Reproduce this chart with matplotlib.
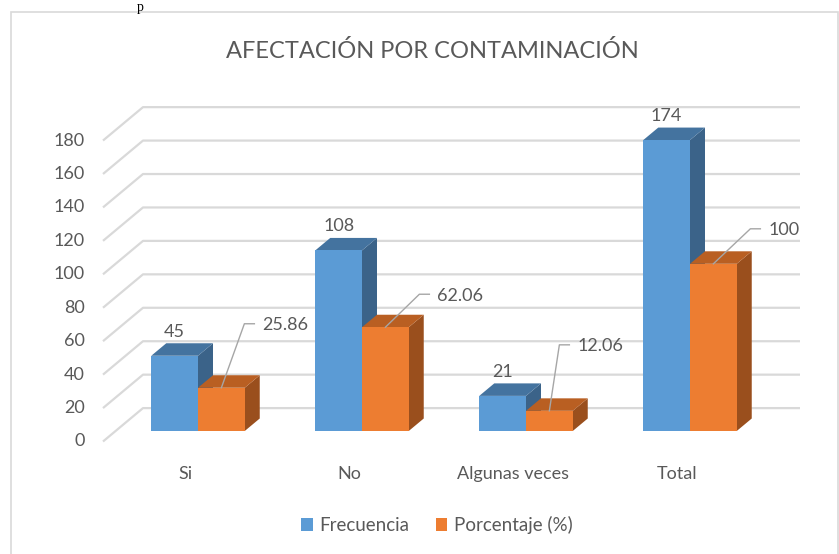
import matplotlib
matplotlib.use('Agg')
import matplotlib.pyplot as plt
from matplotlib.patches import Polygon, Rectangle, Patch

# --- data ---
categorias = ['Si', 'No', 'Algunas veces', 'Total']
frecuencia = [45, 108, 21, 174]
porcentaje = [25.86, 62.06, 12.06, 100]
etiq_porcentaje = ['25.86', '62.06', '12.06', '100']
ticks_y = [0, 20, 40, 60, 80, 100, 120, 140, 160, 180]
series = ['Frecuencia', 'Porcentaje (%)']
titulo = 'AFECTACIÓN POR CONTAMINACIÓN'

# front / top / side colours for each series
col_azul = ('#5B9BD5', '#44739F', '#3B6389')
col_naranja = ('#ED7D31', '#B95F22', '#9A4F1D')
gris_txt = '#595959'
gris_grid = '#D9D9D9'

plt.rcParams['font.family'] = ['Lato', 'DejaVu Sans']

W, H = 839, 554
fig = plt.figure(figsize=(W / 100, H / 100), dpi=100)
ax = fig.add_axes([0, 0, 1, 1])

# pixel layout -> data units (one category = 164 px, one unit = 1.672 px)
X0, XS = 198, 164
Y0, YS = 431, 1.672
def px(x):
    return (x - X0) / XS
def py(y):
    return (Y0 - y) / YS

ax.set_xlim(px(0), px(W))
ax.set_ylim(py(H), py(0))
ax.axis('off')

# chart frame
fig.patches.append(Rectangle((11 / W, -0.01), (W - 12) / W, 1.01 - 12 / H,
                             transform=fig.transFigure, fill=False,
                             edgecolor=gris_grid, lw=1.2))
# bit of the document text above the chart
fig.text(137 / W, 1 - 1 / H, 'p', family=['Liberation Serif', 'DejaVu Serif'],
         fontsize=10, color='black', ha='left', va='top')

# 3d wall: front edge and back wall gridlines
front_x = px(103)
front_dy = -10.5 / YS
deep_x = 40 / XS
deep_y = 33.4 / YS
back_end = px(800)
for t in ticks_y:
    yf = t + front_dy
    ax.plot([front_x, front_x + deep_x, back_end], [yf, yf + deep_y, yf + deep_y],
            color=gris_grid, lw=1.6, zorder=1, solid_capstyle='butt')
    ax.text(px(85), yf, str(t), ha='right', va='center', fontsize=13, color=gris_txt)

# bars with depth
w = 0.285
bdx = 15 / XS
bdy = 12.5 / YS

def bar3d(xc, h, cols):
    L, R = xc - w / 2, xc + w / 2
    ax.add_patch(Polygon([(R, 0), (R + bdx, bdy), (R + bdx, h + bdy), (R, h)],
                         closed=True, facecolor=cols[2], edgecolor='none', zorder=3))
    ax.add_patch(Polygon([(L, h), (R, h), (R + bdx, h + bdy), (L + bdx, h + bdy)],
                         closed=True, facecolor=cols[1], edgecolor='none', zorder=3))
    ax.bar(xc, h, width=w, color=cols[0], edgecolor='none', zorder=3)

# leader offsets (px) for the percentage labels
leader = [(23, 64), (34, 33), (10, 66), (37, 35)]

for i, cat in enumerate(categorias):
    xb = i - w / 2
    xo = i + w / 2
    bar3d(xb, frecuencia[i], col_azul)
    bar3d(xo, porcentaje[i], col_naranja)

    ax.annotate(str(frecuencia[i]), xy=(xb, frecuencia[i]), xytext=(0, 24),
                textcoords='offset pixels', ha='center', va='center',
                fontsize=13, color=gris_txt, zorder=5)

    ex, ey = leader[i]
    x1 = xo + ex / XS
    y1 = porcentaje[i] + ey / YS
    ax.plot([xo, x1, x1 + 10 / XS], [porcentaje[i], y1, y1],
            color='#A6A6A6', lw=1, zorder=4)
    ax.text(x1 + 18 / XS, y1 - 1.5 / YS, etiq_porcentaje[i], ha='left', va='center',
            fontsize=13, color=gris_txt, zorder=5)

    ax.text(i - 13 / XS, py(474), cat, ha='center', va='center',
            fontsize=13, color=gris_txt)

fig.text(432 / W, 1 - 51 / H, titulo, ha='center', va='center',
         fontsize=17, color=gris_txt)

handles = [Patch(facecolor=col_azul[0]), Patch(facecolor=col_naranja[0])]
fig.legend(handles, series, loc='center', bbox_to_anchor=(437 / W, 1 - 525 / H),
           ncol=2, frameon=False, fontsize=13.5, labelcolor=gris_txt,
           handlelength=0.62, handleheight=0.62, handletextpad=0.35,
           columnspacing=1.4)

fig.savefig('out.png', dpi=100, facecolor='white')
